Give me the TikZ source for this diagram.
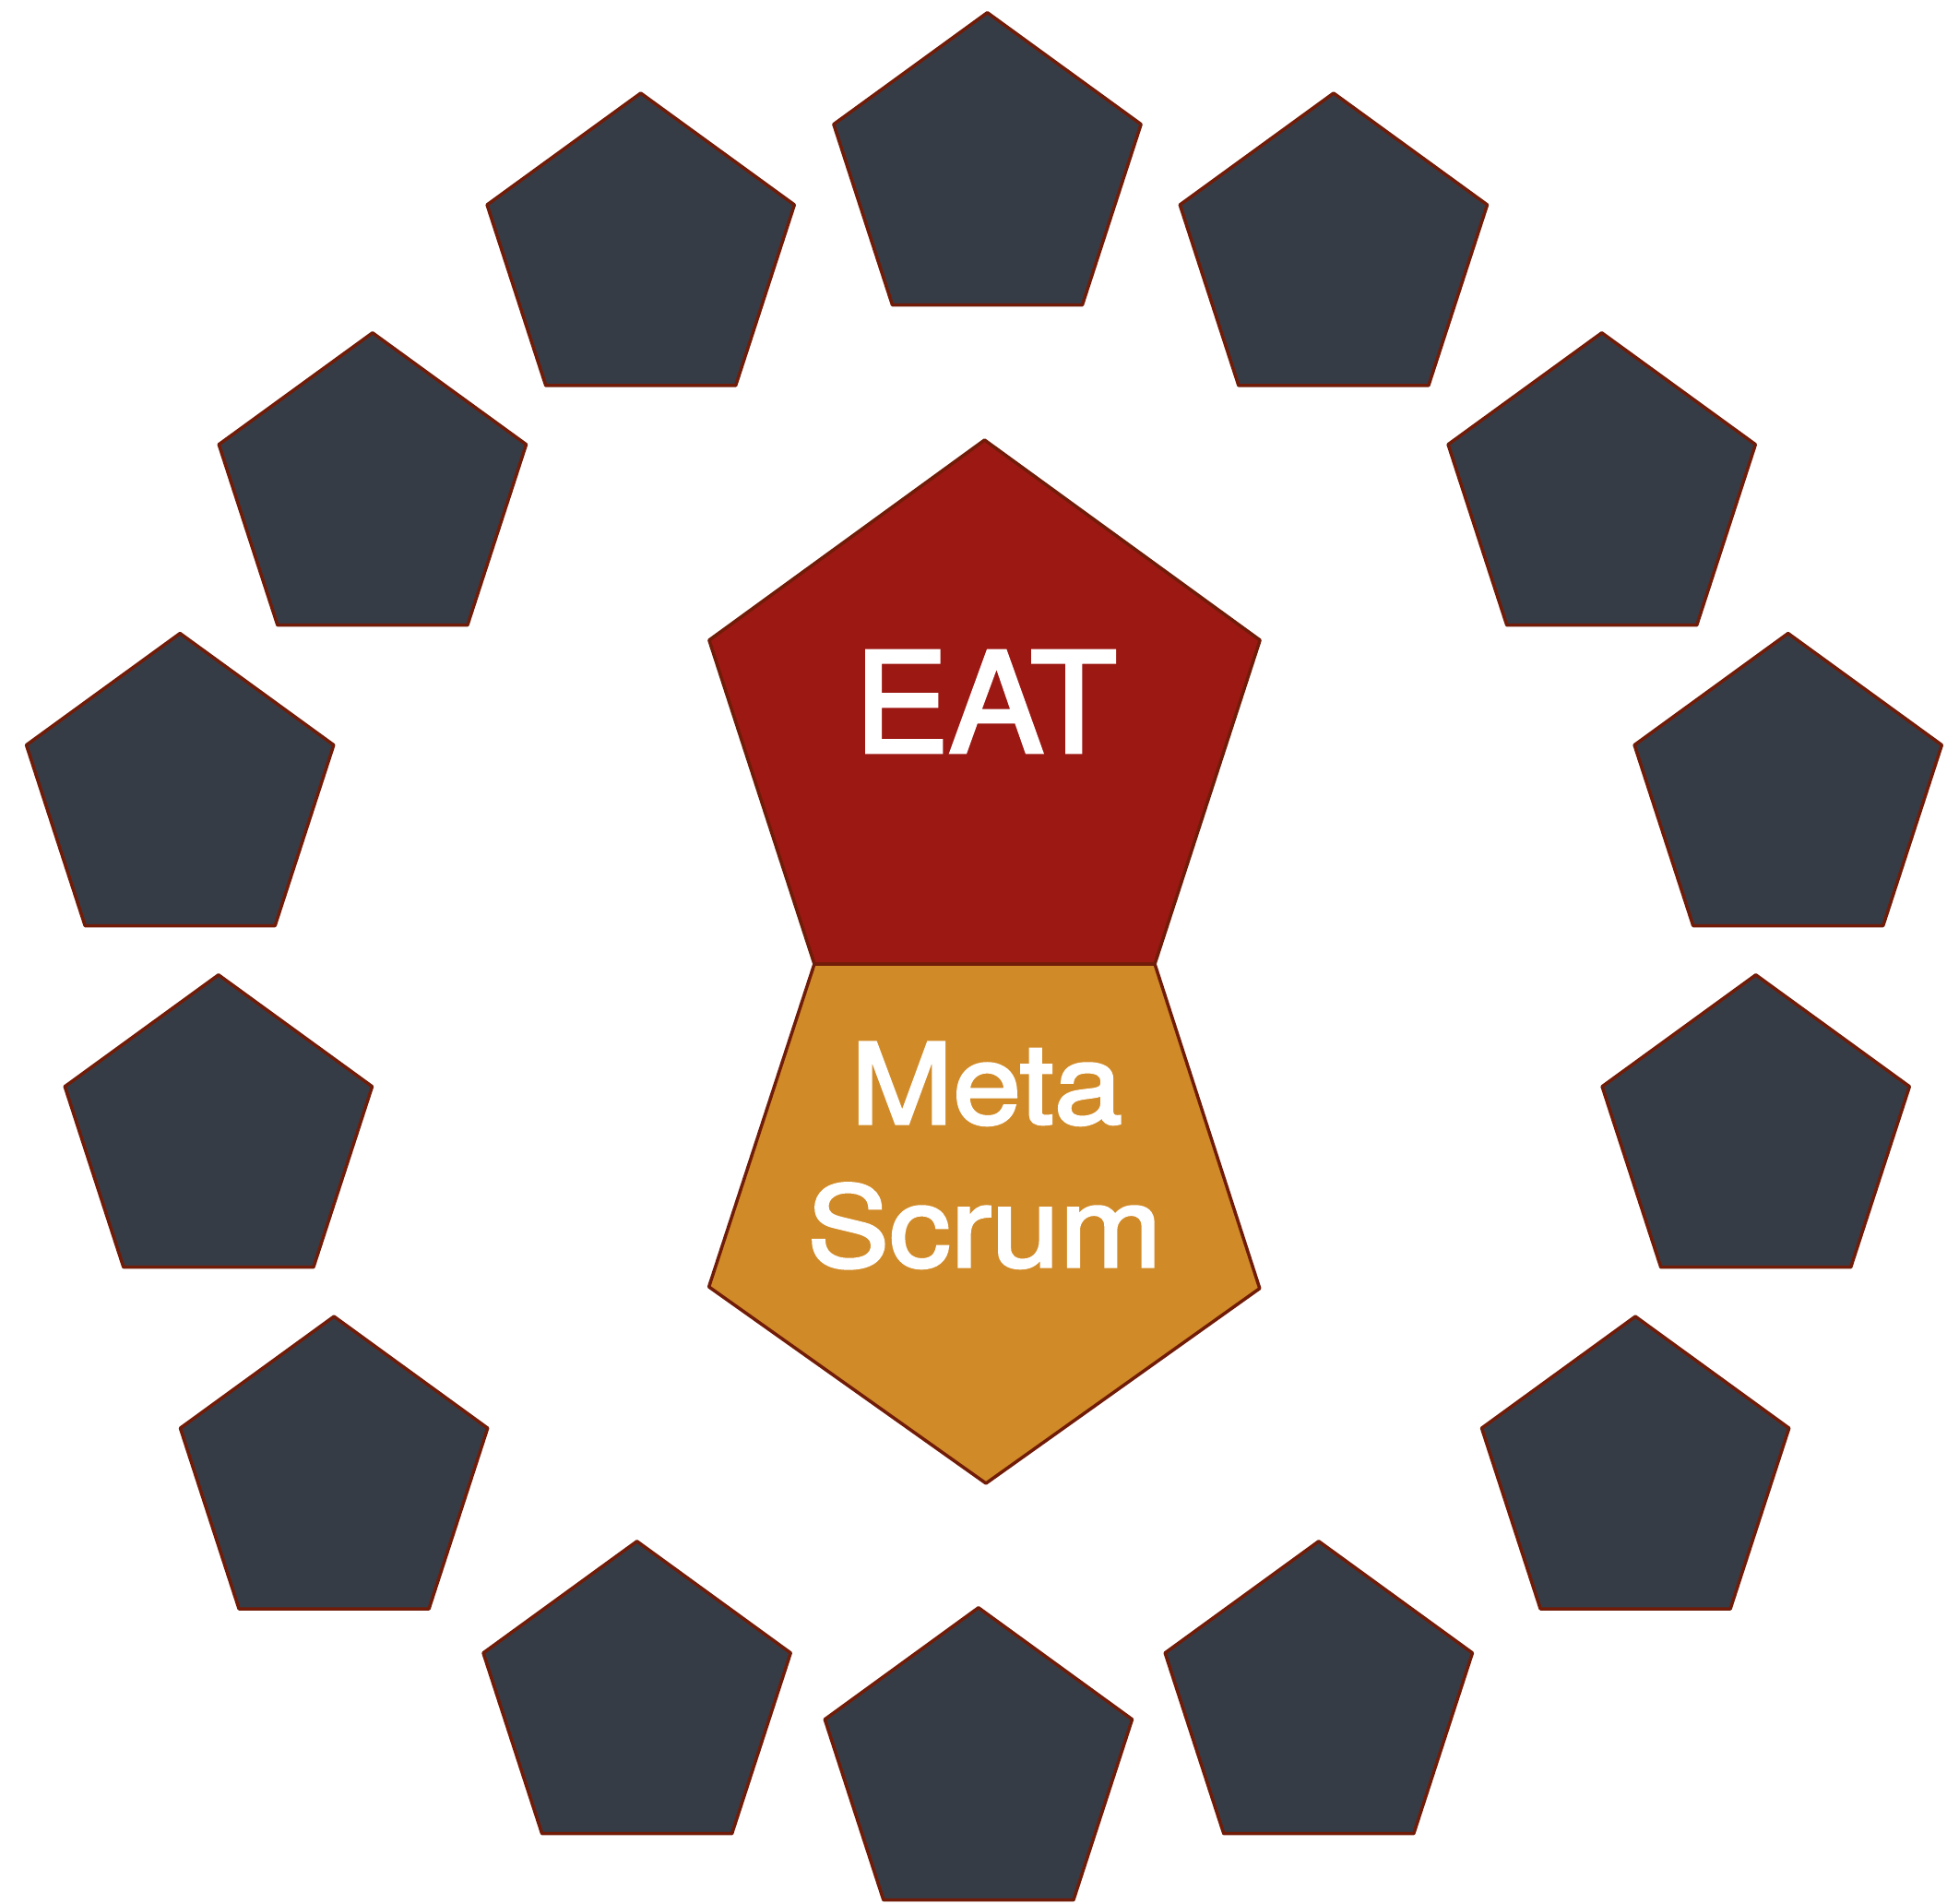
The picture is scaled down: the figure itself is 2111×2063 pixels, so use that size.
\documentclass[tikz,border=0pt]{standalone}
\usepackage{fontspec}
\setmainfont{TeX Gyre Heros}
\newfontfamily\eatfont{TeX Gyre Heros}[FakeBold=2.5, FakeStretch=1.02]
\newfontfamily\metafont{TeX Gyre Heros}[FakeBold=2.5, FakeStretch=1.1]
\usetikzlibrary{shapes.geometric}
\definecolor{pentfill}{RGB}{54,60,70}
\definecolor{pentline}{RGB}{112,28,8}
\definecolor{eatred}{RGB}{156,24,19}
\definecolor{metaorange}{RGB}{209,138,40}
\tikzset{
  pentshape/.style={regular polygon, regular polygon sides=5, draw=pentline, line width=3.5pt, line join=round, inner sep=0pt, outer sep=0pt},
  outerpent/.style={pentshape, fill=pentfill, minimum size=350.4pt},
  lbl/.style={text=white, anchor=base, inner sep=0pt}
}
\begin{document}
\begin{tikzpicture}[x=1pt,y=1pt]
\useasboundingbox (0,0) rectangle (2111,2063);
\node[outerpent] (p1) at (1070.5,1874.1) {};
\node[outerpent] (p2) at (694.7,1786.8) {};
\node[outerpent] (p3) at (1445.9,1786.8) {};
\node[outerpent] (p4) at (403.9,1527.0) {};
\node[outerpent] (p5) at (1736.7,1527.0) {};
\node[outerpent] (p6) at (195.2,1201.2) {};
\node[outerpent] (p7) at (1938.7,1201.2) {};
\node[outerpent] (p8) at (236.9,831.0) {};
\node[outerpent] (p9) at (1903.7,831.0) {};
\node[outerpent] (p10) at (362.1,460.7) {};
\node[outerpent] (p11) at (1773.1,460.7) {};
\node[outerpent] (p12) at (690.6,217.0) {};
\node[outerpent] (p13) at (1429.8,217.0) {};
\node[outerpent] (p14) at (1060.9,145.0) {};
% central red pentagon
\node[pentshape, fill=eatred, minimum size=628pt] (eat) at (1067.5,1272) {};
% orange pentagon below
\coordinate (mr) at (1365.8,666.3);
\coordinate (mb) at (1069,455);
\coordinate (ml) at (768.6,668);
\draw[draw=pentline, fill=metaorange, line width=3.5pt, line join=round] (eat.corner 3) -- (eat.corner 4) -- (mr) -- (mb) -- (ml) -- cycle;
\node[lbl, font=\eatfont\fontsize{151}{180}\selectfont] (teat) at (1068.5,1247.5) {EAT};
\node[lbl, font=\metafont\fontsize{121}{150}\selectfont] (tmeta) at (1069.6,845) {Meta};
\node[lbl, font=\metafont\fontsize{121}{150}\selectfont] (tscrum) at (1067.6,690) {Scrum};
\end{tikzpicture}
\end{document}
